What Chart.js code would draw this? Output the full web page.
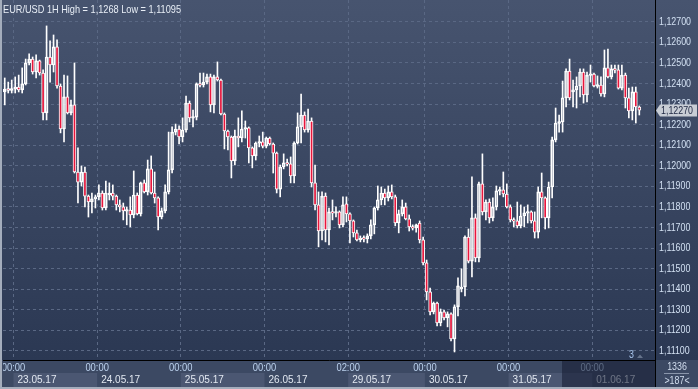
<!DOCTYPE html>
<html>
<head>
<meta charset="utf-8">
<script src="https://cdn.jsdelivr.net/npm/chart.js@4.4.1/dist/chart.umd.min.js"></script>
<style>
  html, body { margin: 0; padding: 0; background: #2e3b56; overflow: hidden; }
</style>
</head>
<body>
<canvas id="chart" width="698" height="389"></canvas>
<script>
// EUR/USD hourly candles, 22.05.17 21:00 .. 01.06.17 13:00
const open = [
  1.12359,1.12373,1.12369,1.12373,1.12383,1.12369,1.12398,1.12500,1.12519,1.12456,
  1.12510,1.12451,1.12257,1.12529,1.12490,1.12578,1.12388,1.12179,1.12335,1.12257,
  1.12296,1.11970,1.11921,1.11970,1.11853,1.11824,1.11839,1.11849,1.11868,1.11795,
  1.11858,1.11868,1.11853,1.11810,1.11800,1.11781,1.11785,1.11761,1.11858,1.11766,
  1.11917,1.11873,1.11985,1.11868,1.11844,1.11751,1.11781,1.11873,1.11980,1.12164,
  1.12179,1.12140,1.12174,1.12305,1.12233,1.12237,1.12398,1.12393,1.12407,1.12432,
  1.12296,1.12432,1.12417,1.12252,1.12169,1.12140,1.12024,1.12145,1.12135,1.12179,
  1.12184,1.12087,1.12048,1.12111,1.12116,1.12096,1.12135,1.12106,1.12062,1.11887,
  1.11994,1.12014,1.12009,1.11951,1.12111,1.12189,1.12247,1.12174,1.12218,1.11917,
  1.11810,1.11683,1.11853,1.11688,1.11776,1.11771,1.11776,1.11713,1.11815,1.11766,
  1.11732,1.11674,1.11640,1.11649,1.11645,1.11659,1.11713,1.11795,1.11834,1.11868,
  1.11844,1.11873,1.11849,1.11722,1.11766,1.11800,1.11742,1.11703,1.11698,1.11722,
  1.11640,1.11528,1.11387,1.11290,1.11333,1.11236,1.11290,1.11261,1.11280,1.11158,
  1.11314,1.11401,1.11411,1.11654,1.11537,1.11747,1.11552,1.11912,1.11776,1.11824,
  1.11747,1.11800,1.11878,1.11883,1.11863,1.11800,1.11737,1.11732,1.11708,1.11756,
  1.11771,1.11776,1.11732,1.11678,1.11873,1.11844,1.11747,1.11897,1.12126,1.12208,
  1.12213,1.12330,1.12461,1.12359,1.12369,1.12388,1.12456,1.12344,1.12441,1.12446,
  1.12388,1.12393,1.12349,1.12476,1.12432,1.12471,1.12466,1.12378,1.12441,1.12330,
  1.12267,1.12359,1.12286
];
const high = [
  1.12427,1.12407,1.12417,1.12432,1.12441,1.12476,1.12519,1.12544,1.12529,1.12539,
  1.12514,1.12466,1.12680,1.12607,1.12636,1.12612,1.12398,1.12441,1.12437,1.12320,
  1.12500,1.12087,1.11999,1.11994,1.11858,1.11868,1.11858,1.11907,1.11878,1.11926,
  1.11917,1.11907,1.11858,1.11834,1.11819,1.11800,1.11849,1.11975,1.11868,1.11921,
  1.11931,1.12028,1.12048,1.11970,1.11849,1.11795,1.11907,1.12164,1.12189,1.12203,
  1.12194,1.12233,1.12339,1.12315,1.12271,1.12403,1.12451,1.12451,1.12446,1.12446,
  1.12441,1.12505,1.12422,1.12257,1.12174,1.12145,1.12174,1.12233,1.12267,1.12218,
  1.12189,1.12092,1.12116,1.12145,1.12164,1.12140,1.12140,1.12111,1.12067,1.12004,
  1.12058,1.12033,1.12043,1.12116,1.12257,1.12349,1.12262,1.12276,1.12233,1.12004,
  1.11873,1.11873,1.11868,1.11795,1.11834,1.11800,1.11781,1.11849,1.11849,1.11771,
  1.11737,1.11688,1.11659,1.11659,1.11669,1.11737,1.11800,1.11902,1.11897,1.11887,
  1.11902,1.11907,1.11858,1.11785,1.11834,1.11819,1.11761,1.11713,1.11717,1.11732,
  1.11654,1.11542,1.11406,1.11338,1.11338,1.11304,1.11299,1.11290,1.11285,1.11324,
  1.11455,1.11499,1.11659,1.11693,1.11946,1.11766,1.11921,1.12058,1.11834,1.11839,
  1.11844,1.11902,1.11897,1.11970,1.11912,1.11810,1.11747,1.11824,1.11810,1.11800,
  1.11810,1.11781,1.11776,1.11897,1.11965,1.11849,1.11921,1.12140,1.12281,1.12247,
  1.12412,1.12471,1.12519,1.12417,1.12432,1.12471,1.12471,1.12456,1.12490,1.12451,
  1.12437,1.12432,1.12563,1.12568,1.12490,1.12490,1.12490,1.12490,1.12451,1.12378,
  1.12383,1.12383,1.12291
];
const low = [
  1.12296,1.12354,1.12354,1.12354,1.12359,1.12354,1.12393,1.12490,1.12446,1.12427,
  1.12441,1.12223,1.12223,1.12407,1.12456,1.12378,1.12160,1.12116,1.12252,1.12247,
  1.11965,1.11819,1.11902,1.11800,1.11751,1.11771,1.11795,1.11834,1.11785,1.11785,
  1.11834,1.11834,1.11785,1.11776,1.11737,1.11713,1.11703,1.11747,1.11761,1.11756,
  1.11868,1.11858,1.11863,1.11819,1.11688,1.11742,1.11771,1.11863,1.11965,1.12150,
  1.12106,1.12116,1.12164,1.12213,1.12189,1.12223,1.12383,1.12383,1.12398,1.12262,
  1.12257,1.12412,1.12247,1.12082,1.12077,1.11941,1.12004,1.12092,1.12116,1.12135,
  1.12014,1.11990,1.12028,1.12092,1.12087,1.12087,1.12101,1.11965,1.11868,1.11849,
  1.11985,1.11999,1.11917,1.11917,1.12106,1.12111,1.12164,1.12164,1.11897,1.11785,
  1.11606,1.11640,1.11630,1.11615,1.11737,1.11751,1.11698,1.11703,1.11727,1.11625,
  1.11654,1.11635,1.11630,1.11630,1.11625,1.11645,1.11669,1.11785,1.11810,1.11810,
  1.11829,1.11839,1.11708,1.11674,1.11756,1.11737,1.11683,1.11688,1.11678,1.11625,
  1.11518,1.11348,1.11275,1.11280,1.11222,1.11222,1.11251,1.11217,1.11149,1.11095,
  1.11270,1.11387,1.11367,1.11528,1.11460,1.11533,1.11533,1.11761,1.11737,1.11722,
  1.11732,1.11785,1.11858,1.11849,1.11795,1.11727,1.11703,1.11698,1.11698,1.11703,
  1.11722,1.11722,1.11649,1.11649,1.11747,1.11693,1.11698,1.11844,1.12116,1.12164,
  1.12164,1.12286,1.12320,1.12286,1.12281,1.12335,1.12305,1.12310,1.12407,1.12383,
  1.12378,1.12339,1.12335,1.12427,1.12422,1.12451,1.12373,1.12369,1.12281,1.12233,
  1.12223,1.12208,1.12247
];
const close = [
  1.12373,1.12369,1.12373,1.12383,1.12369,1.12398,1.12500,1.12519,1.12456,1.12510,
  1.12451,1.12257,1.12529,1.12490,1.12578,1.12388,1.12179,1.12335,1.12257,1.12296,
  1.11970,1.11921,1.11970,1.11853,1.11824,1.11839,1.11849,1.11868,1.11795,1.11868,
  1.11868,1.11853,1.11810,1.11800,1.11781,1.11785,1.11761,1.11858,1.11766,1.11917,
  1.11873,1.11985,1.11868,1.11844,1.11751,1.11781,1.11873,1.11980,1.12164,1.12179,
  1.12140,1.12174,1.12305,1.12233,1.12237,1.12398,1.12393,1.12407,1.12432,1.12296,
  1.12432,1.12417,1.12252,1.12169,1.12140,1.12024,1.12145,1.12135,1.12179,1.12184,
  1.12087,1.12048,1.12111,1.12116,1.12096,1.12135,1.12106,1.12062,1.11887,1.11994,
  1.12014,1.12009,1.11951,1.12111,1.12189,1.12247,1.12174,1.12218,1.11917,1.11810,
  1.11683,1.11853,1.11688,1.11776,1.11771,1.11776,1.11713,1.11810,1.11766,1.11732,
  1.11674,1.11640,1.11649,1.11645,1.11659,1.11713,1.11795,1.11834,1.11868,1.11844,
  1.11873,1.11849,1.11722,1.11766,1.11800,1.11742,1.11703,1.11698,1.11713,1.11640,
  1.11528,1.11387,1.11290,1.11333,1.11236,1.11290,1.11261,1.11280,1.11158,1.11314,
  1.11416,1.11411,1.11654,1.11537,1.11747,1.11552,1.11912,1.11776,1.11824,1.11747,
  1.11800,1.11878,1.11883,1.11863,1.11800,1.11737,1.11732,1.11708,1.11756,1.11771,
  1.11776,1.11732,1.11678,1.11873,1.11844,1.11747,1.11897,1.12126,1.12208,1.12213,
  1.12330,1.12461,1.12330,1.12369,1.12388,1.12456,1.12344,1.12441,1.12446,1.12388,
  1.12393,1.12349,1.12476,1.12432,1.12471,1.12466,1.12378,1.12441,1.12330,1.12267,
  1.12359,1.12286,1.12270
];

// 183 candles + 4 empty slots on the right
const slotCount = 187;
const yTicks = [1.111, 1.112, 1.113, 1.114, 1.115, 1.116, 1.117, 1.118, 1.119,
                1.120, 1.121, 1.122, 1.123, 1.124, 1.125, 1.126, 1.127];
const dayTickIndex = [3, 27, 51, 75, 99, 121, 145, 169];
const dayTickTime = ['00:00', '00:00', '00:00', '00:00', '02:00', '00:00', '00:00', '00:00'];
const dayTickDate = ['23.05.17', '24.05.17', '25.05.17', '26.05.17', '29.05.17', '30.05.17', '31.05.17', '01.06.17'];
const titleText = 'EUR/USD 1H High = 1,1268 Low = 1,11095';
const counterText = '1336';
const barsText = '>187<';
const markerText = '3';

const uiFont = "11px 'Liberation Sans', Arial, sans-serif";
const candleRed = '#e8163c';
const gridColor = '#5a6884';
const fmt = v => v.toFixed(5).replace('.', ',');

const labels = Array.from({ length: slotCount }, (_, i) => i);

// bodies and wicks as floating bars
const bodyData = open.map((o, i) => {
  let lo = Math.min(o, close[i]), hi = Math.max(o, close[i]);
  if (hi - lo < 0.00008) {
    const m = (hi + lo) / 2;
    lo = m - 0.00004; hi = m + 0.00004;
  }
  return [lo, hi];
});
const upperWick = high.map((h, i) => [Math.max(open[i], close[i]), h]);
const lowerWick = low.map((l, i) => [l, Math.min(open[i], close[i])]);
const bodyColors = open.map((o, i) => close[i] < o ? candleRed : 'rgba(0,0,0,0)');

// the terminal font is narrow: squeeze text horizontally by a factor
function narrowText(ctx, text, x, y, align, color, sx) {
  ctx.save();
  ctx.font = uiFont;
  ctx.fillStyle = color;
  ctx.textBaseline = 'middle';
  ctx.textAlign = align;
  ctx.translate(x, y);
  ctx.scale(sx, 1);
  ctx.fillText(text, 0, 0);
  ctx.restore();
}
// squeeze factor that makes `sample` span `width` pixels
function squeeze(ctx, sample, width) {
  ctx.save();
  ctx.font = uiFont;
  const w = ctx.measureText(sample).width;
  ctx.restore();
  return w > 0 ? width / w : 0.82;
}

const panelPlugin = {
  id: 'panel',
  beforeDraw(chart) {
    const ctx = chart.ctx;
    ctx.save();
    const g = ctx.createLinearGradient(0, 0, 0, 360);
    g.addColorStop(0, '#47546f');
    g.addColorStop(1, '#2b3853');
    ctx.fillStyle = g;
    ctx.fillRect(0, 0, 698, 360);
    ctx.fillStyle = '#3c4963';
    ctx.fillRect(0, 360, 698, 29);
    ctx.restore();
  },
  afterDraw(chart) {
    const ctx = chart.ctx;
    const xs = chart.scales.x, ys = chart.scales.y;
    const half = (xs.getPixelForValue(1) - xs.getPixelForValue(0)) / 2;
    const edge = idx => xs.getPixelForValue(idx) - half;
    const sxTitle = squeeze(ctx, titleText, 178);
    const sxPrice = squeeze(ctx, '1,12700', 32);
    const sxTime = squeeze(ctx, '00:00', 23.5);
    const sxDate = squeeze(ctx, '23.05.17', 39);
    ctx.save();

    // date boxes, every other day shaded
    for (let k = 0; k < dayTickIndex.length; k++) {
      const x0 = edge(dayTickIndex[k]);
      const x1 = k + 1 < dayTickIndex.length ? edge(dayTickIndex[k + 1]) : 655;
      if (k % 2 === 0) {
        ctx.fillStyle = '#4b5772';
        ctx.fillRect(x0, 373, x1 - x0, 14);
      }
    }
    ctx.beginPath();
    ctx.rect(3, 361, 652, 26);
    ctx.clip();
    for (let k = 0; k < dayTickIndex.length; k++) {
      const x0 = edge(dayTickIndex[k]);
      narrowText(ctx, dayTickTime[k], x0, 367.5, 'center', '#bcd2ee', sxTime);
      narrowText(ctx, dayTickDate[k], x0 + 4, 380, 'left', '#e2e8f1', sxDate);
    }
    ctx.restore();

    ctx.save();
    // dimmed scroller area
    ctx.fillStyle = 'rgba(22,30,52,0.58)';
    ctx.fillRect(562, 361, 93, 26);

    // borders
    ctx.fillStyle = '#000';
    ctx.fillRect(655, 360, 1, 27);
    ctx.fillStyle = '#a4adbc';
    ctx.fillRect(0, 0, 2, 389);
    ctx.fillRect(0, 387, 698, 2);

    // price axis labels
    yTicks.forEach(v => narrowText(ctx, fmt(v), 659, ys.getPixelForValue(v), 'left', '#d2e0f2', sxPrice));

    // bottom-right counters
    narrowText(ctx, counterText, 677, 367, 'center', '#d2deef', sxPrice);
    narrowText(ctx, barsText, 677, 380.5, 'center', '#d2deef', sxPrice);
    ctx.fillStyle = '#8a96ab';
    ctx.fillRect(664, 373, 25, 1);

    // title
    narrowText(ctx, titleText, 3, 10, 'left', '#e8eef6', sxTitle);

    // marker near the bottom right of the plot
    narrowText(ctx, markerText, 629, 355, 'left', '#a9c6ee', sxPrice);
    ctx.fillStyle = '#66738b';
    ctx.beginPath();
    ctx.moveTo(637, 358); ctx.lineTo(640, 354.5); ctx.lineTo(643, 358);
    ctx.closePath();
    ctx.fill();

    // last price tag
    const last = close[close.length - 1];
    const y = Math.round(ys.getPixelForValue(last)) + 0.5;
    ctx.fillStyle = '#c8cdd5';
    ctx.beginPath();
    ctx.moveTo(656, y);
    ctx.lineTo(660, y - 6);
    ctx.lineTo(697, y - 6);
    ctx.lineTo(697, y + 6);
    ctx.lineTo(660, y + 6);
    ctx.closePath();
    ctx.fill();
    narrowText(ctx, fmt(last), 661, y, 'left', '#1c2540', sxPrice);
    ctx.restore();
  }
};

const chart = new Chart(document.getElementById('chart').getContext('2d'), {
  type: 'bar',
  data: {
    labels: labels,
    datasets: [
      {
        label: 'body',
        data: bodyData,
        backgroundColor: bodyColors,
        borderColor: '#ffffff',
        borderWidth: 1,
        borderSkipped: false,
        barThickness: 3,
        grouped: false
      },
      {
        label: 'upper wick',
        data: upperWick,
        backgroundColor: '#ffffff',
        borderWidth: 0,
        barThickness: 1,
        grouped: false
      },
      {
        label: 'lower wick',
        data: lowerWick,
        backgroundColor: '#ffffff',
        borderWidth: 0,
        barThickness: 1,
        grouped: false
      }
    ]
  },
  options: {
    responsive: false,
    animation: false,
    layout: { padding: { left: 3, top: 0, right: 0, bottom: 0 } },
    plugins: {
      legend: { display: false },
      tooltip: { enabled: false }
    },
    scales: {
      x: {
        offset: true,
        grid: {
          offset: true,
          drawTicks: false,
          color: c => dayTickIndex.includes(c.index) ? gridColor : 'rgba(0,0,0,0)'
        },
        border: { color: '#000000', width: 1, dash: [3, 3] },
        ticks: { display: false, autoSkip: false },
        afterFit: s => { s.height = 29; }
      },
      y: {
        position: 'right',
        min: 1.11056,
        max: 1.12806,
        grid: { color: gridColor, drawTicks: false },
        border: { color: '#000000', width: 1, dash: [3, 3] },
        ticks: { display: false },
        afterBuildTicks: s => { s.ticks = yTicks.map(v => ({ value: v })); },
        afterFit: s => { s.width = 43; }
      }
    }
  },
  plugins: [panelPlugin]
});
</script>
</body>
</html>
